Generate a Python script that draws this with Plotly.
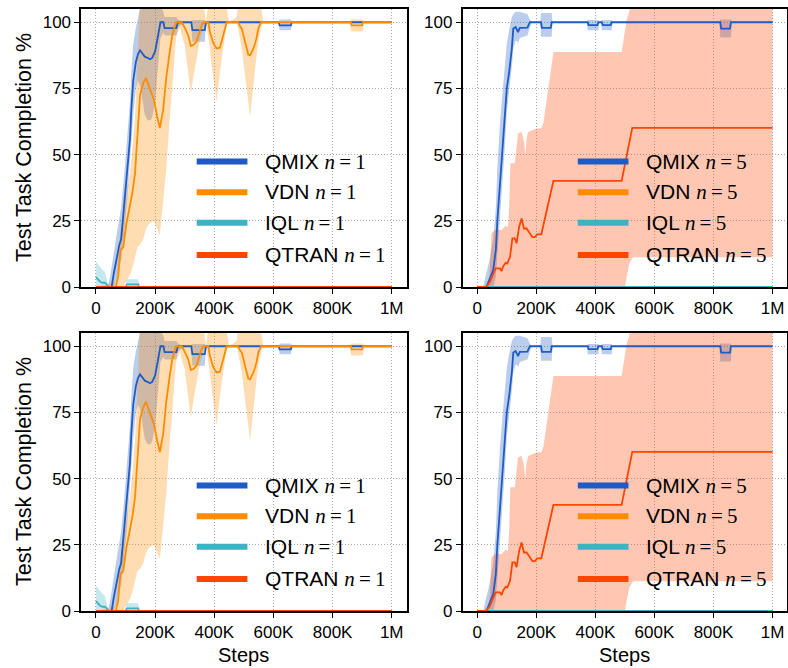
import plotly.graph_objects as go

K = 1000  # x values below are given in thousands of environment steps

# ---------------------------------------------------------------- n = 1
qmix1_x = [0, 40, 48, 53, 60, 70, 79, 85, 95, 105, 115, 120, 126, 135, 142, 149, 158, 165, 175, 183, 190,
           200, 210, 218, 228, 232, 272, 277, 300, 322, 326, 368, 372, 618, 621, 659, 662, 1000]
qmix1_mean = [0, 0, 0, 0, 5, 11, 16, 18, 30, 43, 56, 68, 78, 85, 88, 89.4, 88, 87, 86.5, 86, 86.5,
              89, 95, 100, 100, 97.8, 97.8, 100, 100, 100, 97, 97, 100, 100, 98.8, 98.8, 100, 100]
qmix1_lo = [0, 0, 0, 0, 0, 3, 8, 10, 20, 32, 45, 55, 65, 75, 78, 76, 70, 65, 63, 63, 64,
            70, 84, 94, 96, 95, 95, 98, 100, 100, 92.6, 92.6, 100, 100, 97, 97, 100, 100]
qmix1_hi = [0, 0, 4, 8, 13, 20, 26, 30, 42, 56, 70, 82, 92, 98, 102, 106, 110, 110, 110, 110, 110,
            110, 108, 106, 104, 102, 102, 101, 100, 100, 100.8, 100.8, 100, 100, 101, 101, 100, 100]

vdn1_x = [0, 67, 75, 83, 92, 103, 117, 125, 132, 136, 140, 149, 160, 169, 180, 196, 207, 216, 227, 238,
          250, 258, 267, 272, 285, 290, 300, 312, 321, 330, 340, 352, 357, 365, 372, 376, 380, 385, 391,
          397, 408, 419, 430, 442, 450, 476, 481, 487, 493, 504, 515, 521, 526, 532, 538, 543, 549, 558,
          565, 858, 862, 865, 900, 903, 906, 1000]
vdn1_mean = [0, 0, 4, 14, 15, 24, 32, 37, 43, 51, 57, 72.5, 77, 79, 75.6, 70.6, 64.3, 60, 66.8, 79.4,
             89.4, 95, 98.9, 100, 100, 100, 98, 95, 91, 91.5, 92.6, 97, 98.9, 100, 100, 100, 100, 96.4, 94,
             92, 90.1, 90.4, 95, 100, 100, 100, 100, 98.5, 97.6, 92.6, 87.8, 87.5, 88.4, 90, 92, 94, 97.6, 100,
             100, 100, 100, 98.8, 98.8, 100, 100, 100]
vdn1_lo = [0, 0, 0, 0, 0, 2, 5, 8, 11, 13, 15, 16, 18, 22, 24, 25, 22, 19.6, 33, 45,
           65, 75, 89.4, 95, 98, 95, 91.3, 81.2, 73, 80, 86, 93.8, 96, 98.9, 100, 98, 93.8, 90, 83.8,
           78, 69.9, 81.2, 90.1, 98.9, 100, 100, 97, 93.8, 90, 81.2, 70, 64.3, 70, 75, 82, 87.5, 93, 97.6,
           100, 100, 96.5, 96.5, 96.5, 96.5, 100, 100]
vdn1_hi = [0, 2, 12, 22, 26, 34, 45, 55, 65, 75, 88, 108, 110, 110, 110, 110, 110, 110, 110, 110,
           110, 110, 110, 108, 106, 108, 110, 110, 110, 110, 110, 110, 110, 106, 100, 104, 108, 110, 110,
           110, 110, 110, 110, 106, 100, 102, 108, 110, 110, 110, 110, 110, 110, 110, 110, 110, 110, 106,
           100, 100, 101, 101, 101, 101, 100, 100]

iql1_x = [0, 7, 14, 22, 30, 36, 42, 100, 104, 143, 146, 1000]
iql1_mean = [3.7, 2.8, 2.0, 1.6, 1.6, 1.0, 0, 0, 1.0, 1.0, 0, 0]
iql1_lo = [0, 0, 0, 0, 0, 0, 0, 0, 0, 0, 0, 0]
iql1_hi = [9.5, 8.5, 7.7, 6.5, 5.8, 3.0, 0, 0, 2.9, 2.9, 0, 0]

qtran1_x = [0, 1000]
qtran1_mean = [0, 0]

# ---------------------------------------------------------------- n = 5
qmix5_x = [0, 20, 26, 33, 41, 54, 63, 68, 77, 86, 93, 100, 108, 117, 122, 130, 135, 138, 144, 170, 178,
           186, 213, 216, 219, 249, 252, 255, 371, 374, 377, 407, 410, 413, 419, 422, 425, 452, 455, 458,
           820, 823, 826, 856, 859, 862, 1000]
qmix5_mean = [0, 0, 0, 0.5, 2.6, 6.4, 14, 24.9, 39, 52, 64, 75, 81.2, 90, 97.6, 98.2, 97, 96.3, 97.9, 98, 100,
              100, 100, 100, 97.9, 97.9, 100, 100, 100, 100, 98.9, 98.9, 100, 100, 100, 100, 98.9, 98.9, 100, 100,
              100, 100, 97.6, 97.6, 100, 100, 100]
qmix5_lo = [0, 0, 0, 0, 0, 0, 4, 12, 26, 40, 52, 66, 74, 83, 90, 93, 93, 92, 94, 95, 98,
            100, 100, 94.5, 94.5, 94.5, 94.5, 100, 100, 97, 97, 97, 97, 100, 100, 97, 97, 97, 97, 100,
            100, 94.2, 94.2, 94.2, 94.2, 100, 100]
qmix5_hi = [0, 0, 3, 6, 10, 18, 30, 45, 62, 74, 84, 92, 97, 102, 103, 104, 104, 104, 104, 103, 101,
            100, 100, 103.5, 103.5, 103.5, 103.5, 100, 100, 100.8, 100.8, 100.8, 100.8, 100, 100, 100.8, 100.8,
            100.8, 100.8, 100, 100, 101, 101, 101, 101, 100, 100]

vdn5_x = [0, 1000]
vdn5_mean = [0, 0]

iql5_x = [0, 1000]
iql5_mean = [0, 0]

qtran5_x = [0, 31, 43, 54, 62, 77, 82, 88, 97, 102, 111, 119, 127, 133, 142, 150, 158, 167, 179, 187,
            195, 203, 217, 258, 489, 525, 1000]
qtran5_mean = [0, 0, 2.0, 5.2, 7.0, 7.0, 6.0, 7.9, 9.2, 8.9, 11.4, 18.4, 18.4, 16.5, 22.8, 25.9, 22.1, 22.1,
               20.3, 18.8, 18.8, 19.9, 19.9, 40.1, 40.1, 60.1, 60.1]
qtran5_band_x = [0, 40, 44, 48, 60, 82, 95, 104, 108, 112, 127, 138, 150, 158, 163, 167, 172, 201, 217,
                 224, 235, 246, 258, 489, 500, 506, 515, 523, 528, 1000]
qtran5_lo = [0, 0, 0, 0, 0, 0, 0, 0, 0, 0, 0, 0, 0, 0, 0, 0, 0, 0, 0,
             0, 0, 0, 0, 0, 0, 3.9, 8.9, 10.5, 11.2, 11.2]
qtran5_hi = [0, 0, 10, 20.3, 21.5, 21.5, 23, 22.8, 30, 46.7, 46.7, 58, 58.6, 55, 50, 56, 58.5, 59.9, 60,
             62, 70.6, 79.4, 88.8, 88.8, 97, 101, 104, 110, 110, 110]

# ---------------------------------------------------------------- labels / ticks
method_names = ["QMIX", "VDN", "IQL", "QTRAN"]
method_colors = ["#1f5bc4", "#ff8c00", "#3cb3c3", "#ff4500"]
band_colors = ["rgba(31,91,196,0.3)", "rgba(255,140,0,0.3)", "rgba(60,179,195,0.3)", "rgba(255,69,0,0.3)"]
x_tick_vals = [0, 200, 400, 600, 800, 1000]
x_tick_text = ["0", "200K", "400K", "600K", "800K", "1M"]
y_tick_vals = [0, 25, 50, 75, 100]
agent_counts = [1, 5]

# (x, mean, band_x, lo, hi) per method, for each agent count
runs = {
    1: [
        (qmix1_x, qmix1_mean, qmix1_x, qmix1_lo, qmix1_hi),
        (vdn1_x, vdn1_mean, vdn1_x, vdn1_lo, vdn1_hi),
        (iql1_x, iql1_mean, iql1_x, iql1_lo, iql1_hi),
        (qtran1_x, qtran1_mean, None, None, None),
    ],
    5: [
        (qmix5_x, qmix5_mean, qmix5_x, qmix5_lo, qmix5_hi),
        (vdn5_x, vdn5_mean, None, None, None),
        (iql5_x, iql5_mean, None, None, None),
        (qtran5_x, qtran5_mean, qtran5_band_x, qtran5_lo, qtran5_hi),
    ],
}

W, H = 788, 668
FONT = "Liberation Sans"
x_domains = [[81.2 / W, 406.5 / W], [462.5 / W, 787.3 / W]]
y_domains = [[1 - 287 / H, 1 - 9 / H], [1 - 611 / H, 1 - 333 / H]]

fig = go.Figure()
layout = dict(
    width=W, height=H, margin=dict(l=0, r=0, t=0, b=0),
    paper_bgcolor="white", plot_bgcolor="white", showlegend=False,
)
shapes, annotations = [], []

axis_common = dict(
    showgrid=True, gridcolor="#a8a8a8", griddash="1px,2px", gridwidth=1,
    showline=True, linecolor="black", linewidth=1.5, mirror=True,
    ticks="outside", ticklen=5, tickwidth=1.2, tickcolor="black",
    zeroline=False, automargin=False,
    tickfont=dict(family=FONT, size=17, color="black"),
)

THIN = "\u2009"

for row in range(2):
    for col, n in enumerate(agent_counts):
        idx = row * 2 + col + 1
        sfx = "" if idx == 1 else str(idx)
        xa, ya = "x" + sfx, "y" + sfx

        # shaded spread of every method first, mean curves on top
        for (sx, sy, bx, lo, hi), fillc in zip(runs[n], band_colors):
            if bx is None:
                continue
            bxs = [v * K for v in bx]
            fig.add_trace(go.Scatter(
                x=bxs + bxs[::-1], y=list(hi) + list(lo)[::-1],
                fill="toself", fillcolor=fillc, line=dict(width=0),
                mode="lines", hoverinfo="skip", xaxis=xa, yaxis=ya))
        for (sx, sy, bx, lo, hi), color in zip(runs[n], method_colors):
            fig.add_trace(go.Scatter(
                x=[v * K for v in sx], y=sy, mode="lines",
                line=dict(color=color, width=1.8), xaxis=xa, yaxis=ya))

        layout["xaxis" + sfx] = dict(
            axis_common, domain=x_domains[col], anchor=ya,
            range=[-50 * K, 1050 * K],
            tickvals=[v * K for v in x_tick_vals], ticktext=x_tick_text)
        layout["yaxis" + sfx] = dict(
            axis_common, domain=y_domains[row], anchor=xa,
            range=[0, 105], tickvals=y_tick_vals)

        # legend block in the lower right of each panel
        row_pos = [0.451, 0.341, 0.231, 0.115]
        for name, color, yp in zip(method_names, method_colors, row_pos):
            shapes.append(dict(
                type="line", xref=xa + " domain", yref=ya + " domain",
                x0=0.355, x1=0.511, y0=yp, y1=yp,
                line=dict(color=color, width=6)))
            annotations.append(dict(
                xref=xa + " domain", yref=ya + " domain", x=0.558, y=yp,
                xanchor="left", yanchor="middle", showarrow=False,
                text=(f"{name} <span style=\"font-family:Liberation Serif\">"
                      f"<i>n</i>{THIN}={THIN}{n}</span>"),
                font=dict(family=FONT, size=21, color="black")))

        if col == 0:
            annotations.append(dict(
                xref="paper", yref="paper", x=24 / W,
                y=(y_domains[row][0] + y_domains[row][1]) / 2,
                xanchor="center", yanchor="middle", textangle=-90, showarrow=False,
                text="Test Task Completion %",
                font=dict(family=FONT, size=21.5, color="black")))
        if row == 1:
            annotations.append(dict(
                xref="paper", yref="paper",
                x=(x_domains[col][0] + x_domains[col][1]) / 2, y=1 - 655 / H,
                xanchor="center", yanchor="middle", showarrow=False,
                text="Steps", font=dict(family=FONT, size=20, color="black")))

layout["shapes"] = shapes
layout["annotations"] = annotations
fig.update_layout(**layout)
fig.write_html("out.html")
